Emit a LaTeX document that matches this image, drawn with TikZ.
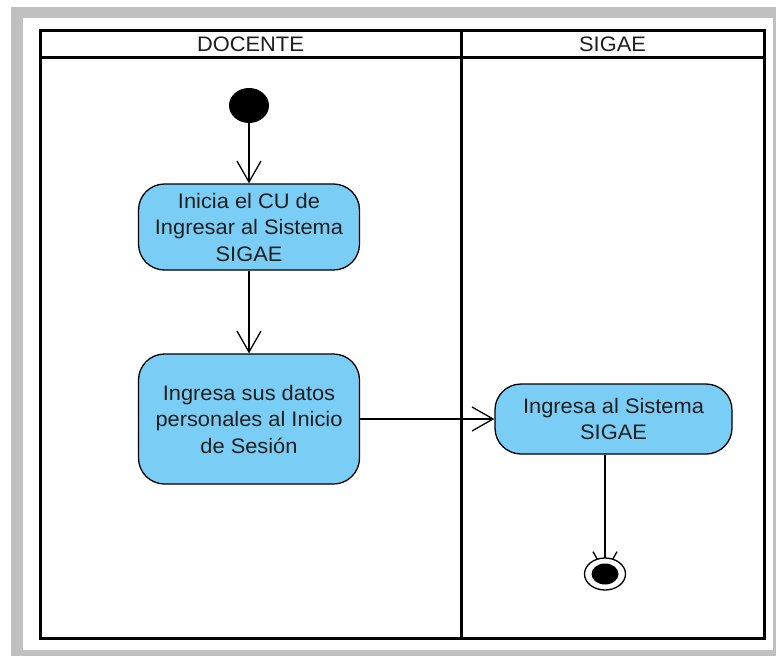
\documentclass[tikz,border=0pt]{standalone}
\usepackage{fontspec}
\setmainfont{Liberation Sans}[FakeStretch=1.04]
\usetikzlibrary{arrows.meta,shapes.geometric}
\definecolor{actfill}{RGB}{122,206,245}
\definecolor{framegray}{RGB}{192,192,192}
\definecolor{txt}{RGB}{30,30,30}
\begin{document}
\begin{tikzpicture}[x=1bp,y=-1bp,
  lane/.style={line width=3bp},
  action/.style={draw, line width=1.3bp, fill=actfill, rounded corners=26bp,
    align=center, text=txt, font=\fontsize{21bp}{26.5bp}\selectfont, inner sep=0pt},
  flow/.style={line width=1.3bp,
    -{Straight Barb[length=21bp,width=24bp,line width=1.3bp]}},
  lanetitle/.style={font=\fontsize{21bp}{26bp}\selectfont, text=txt},
  dot/.style={ellipse, fill=black, inner sep=0pt}
]
\useasboundingbox (0,0) rectangle (776,656);
% outer frame
\fill[framegray] (11,7) rectangle (776,656);
\fill[white] (23,18) rectangle (773,650);

% swimlanes
\draw[lane] (40,31) rectangle (764,638);
\draw[lane] (40,58) -- (764,58);
\draw[lane] (461,31) -- (461,638);
\node[lanetitle] (docente) at (250.5,44.5) {DOCENTE};
\node[lanetitle] (sigae) at (612.5,44.5) {SIGAE};

% activity nodes
\node[dot, minimum width=40bp, minimum height=35bp] (start) at (249,105.5) {};
\node[action, minimum width=221bp, minimum height=86bp] (a1) at (249,227)
  {Inicia el CU de\\Ingresar al Sistema\\SIGAE};
\node[action, minimum width=221bp, minimum height=130bp] (a2) at (249,419)
  {Ingresa sus datos\\personales al Inicio\\de Sesión};
\node[action, minimum width=237bp, minimum height=70bp] (a3) at (613.5,419)
  {Ingresa al Sistema\\SIGAE};
\coordinate (finc) at (605,574);

% control flows
\draw[flow] (start) -- (a1);
\draw[flow] (a1) -- (a2);
\draw[flow] (a2) -- (a3);
\draw[flow] (a3.south -| finc) -- (finc);

% final node
\node[ellipse, draw, line width=1.3bp, fill=white, inner sep=0pt,
  minimum width=41bp, minimum height=32bp] (fin) at (finc) {};
\node[dot, minimum width=27bp, minimum height=21bp] (findot) at (finc) {};
\end{tikzpicture}
\end{document}
